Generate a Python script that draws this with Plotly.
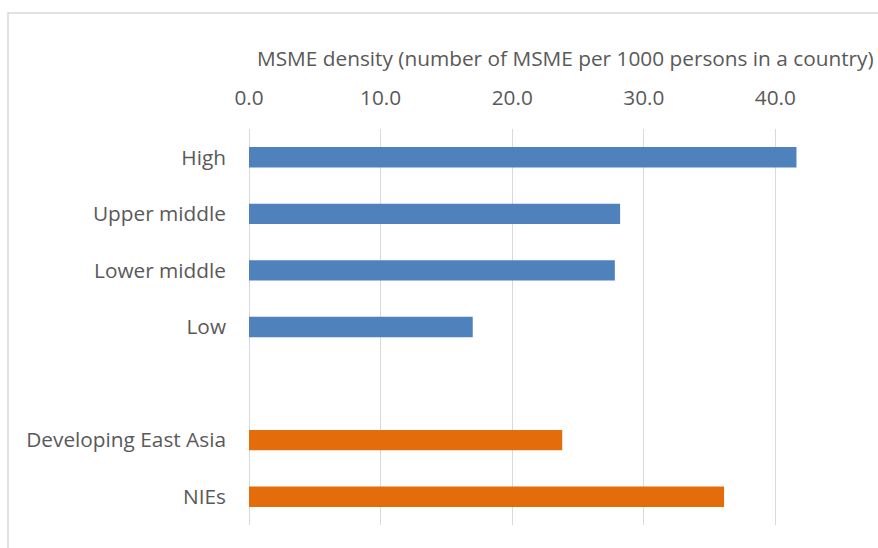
import plotly.graph_objects as go

income_groups = ["High", "Upper middle", "Lower middle", "Low"]
income_values = [41.6, 28.2, 27.8, 17.0]
region_groups = ["Developing East Asia", "NIEs"]
region_values = [23.8, 36.1]
category_order = ["High", "Upper middle", "Lower middle", "Low", " ", "Developing East Asia", "NIEs"]
tick_vals = [0, 10, 20, 30, 40, 50]
tick_text = ["0.0", "10.0", "20.0", "30.0", "40.0", "50.0"]
title_text = "MSME density (number of MSME per 1000 persons in a country)"

W, H = 878, 548
L, R, T, B = 249, 0, 129, 23
pw = W - L - R
ph = H - T - B
px_per_unit = 13.16
xmax = pw / px_per_unit

fig = go.Figure()
fig.add_trace(go.Bar(y=income_groups, x=income_values, orientation="h",
                     marker=dict(color="#4f81bd", line=dict(width=0)), width=0.36))
fig.add_trace(go.Bar(y=region_groups, x=region_values, orientation="h",
                     marker=dict(color="#e46c0a", line=dict(width=0)), width=0.36))

font_family = "Open Sans"
grey = "#595959"
fs = 20.8

fig.update_layout(
    width=W, height=H,
    margin=dict(l=L, r=R, t=T, b=B, pad=0),
    paper_bgcolor="white", plot_bgcolor="white",
    barmode="overlay", showlegend=False,
    font=dict(family=font_family, size=fs, color=grey),
    xaxis=dict(side="top", range=[0, xmax], tickvals=tick_vals, ticktext=tick_text,
               showgrid=True, gridcolor="#d9d9d9", gridwidth=1,
               zeroline=True, zerolinecolor="#d9d9d9", zerolinewidth=1,
               showline=False, ticks="", ticklabelstandoff=19,
               tickfont=dict(family=font_family, size=fs, color=grey)),
    yaxis=dict(categoryorder="array", categoryarray=category_order, type="category",
               range=[len(category_order) - 0.5, -0.5],
               showgrid=False, zeroline=False, showline=False, ticks="",
               ticklabelstandoff=22,
               tickfont=dict(family=font_family, size=fs, color=grey)),
)

def px_to_paper_x(p):
    return (p - L) / pw

def py_to_paper_y(p):
    return (H - B - p) / ph

fig.add_shape(type="rect", xref="paper", yref="paper",
              x0=px_to_paper_x(8), x1=px_to_paper_x(W + 20),
              y0=py_to_paper_y(H + 20), y1=py_to_paper_y(13),
              line=dict(color="#d9d9d9", width=1.5), fillcolor="rgba(0,0,0,0)", layer="below")

fig.add_annotation(text=title_text, xref="paper", yref="paper",
                   x=px_to_paper_x(255), y=py_to_paper_y(58),
                   xanchor="left", yanchor="middle", showarrow=False,
                   font=dict(family=font_family, size=20.8, color=grey))

fig.write_html("out.html")
